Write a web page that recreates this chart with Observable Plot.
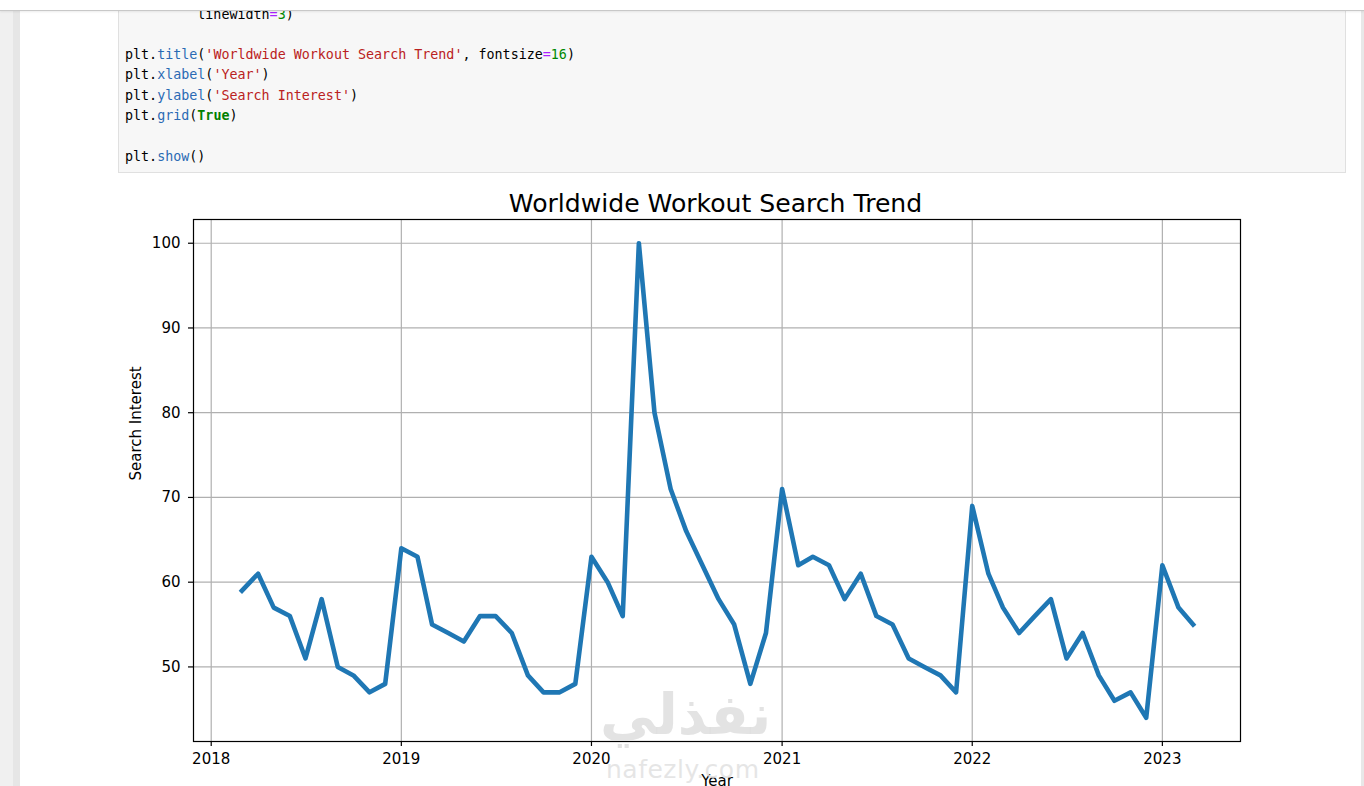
<!DOCTYPE html>
<html>
<head>
<meta charset="utf-8">
<script src="https://cdn.jsdelivr.net/npm/d3@7"></script>
<script src="https://cdn.jsdelivr.net/npm/@observablehq/plot@0.6"></script>
<style>
  html, body { margin: 0; padding: 0; background: #fff; width: 1364px; height: 786px; overflow: hidden; position: relative; }
  #leftstrip { position: absolute; left: 0; top: 0; width: 13px; height: 786px; background: #f0f0f0; border-right: 7px solid #e6e6e6; }
  #rightedge { position: absolute; left: 1361px; top: 0; width: 3px; height: 786px; background: #e8e8e8; }
  #topbar { position: absolute; left: 0; top: 0; width: 1364px; height: 10px; background: #fff; border-bottom: 1px solid #c8c8c8; box-shadow: 0 1px 2px rgba(0,0,0,0.08); z-index: 5; }
  #cell { position: absolute; left: 118px; top: 10px; width: 1226px; height: 161px; background: #f7f7f7; border: 1px solid #e0e0e0; }
  .ln { position: absolute; left: 125px; height: 20px; font-family: "DejaVu Sans Mono", monospace; font-size: 13.35px; line-height: 20px; color: #000; white-space: pre; z-index: 2; }
  .p { color: #2a6ab4; }
  .s { color: #ba2121; }
  .n { color: #008800; }
  .o { color: #aa22ff; }
  .k { color: #008000; font-weight: bold; }
  #chart { position: absolute; left: 100px; top: 180px; }
  #wm1 { position: absolute; left: 600px; top: 683px; font-family: "DejaVu Sans", sans-serif; font-weight: bold; font-size: 56px; line-height: 64px; color: rgba(222,222,222,0.85); z-index: 3; white-space: nowrap; }
  #wm2 { position: absolute; left: 606px; top: 756px; font-family: "DejaVu Sans", sans-serif; font-size: 25px; line-height: 28px; color: rgba(225,225,225,0.85); z-index: 3; white-space: nowrap; letter-spacing: 0.5px; }
</style>
</head>
<body>
<div id="leftstrip"></div>
<div id="rightedge"></div>
<div id="topbar"></div>
<div id="cell"></div>
<div class="ln" style="top:4.5px"><span>         linewidth</span><span class="o">=</span><span class="n">3</span><span>)</span></div>
<div class="ln" style="top:45px"><span>plt.</span><span class="p">title</span><span>(</span><span class="s">'Worldwide Workout Search Trend'</span><span>, fontsize</span><span class="o">=</span><span class="n">16</span><span>)</span></div>
<div class="ln" style="top:65px"><span>plt.</span><span class="p">xlabel</span><span>(</span><span class="s">'Year'</span><span>)</span></div>
<div class="ln" style="top:85.5px"><span>plt.</span><span class="p">ylabel</span><span>(</span><span class="s">'Search Interest'</span><span>)</span></div>
<div class="ln" style="top:105.5px"><span>plt.</span><span class="p">grid</span><span>(</span><span class="k">True</span><span>)</span></div>
<div class="ln" style="top:146.5px"><span>plt.</span><span class="p">show</span><span>()</span></div>
<div id="chart"></div>
<div id="wm1">نفذلي</div>
<div id="wm2">nafezly.com</div>
<script>
// Monthly search interest, March 2018 – March 2023
const months = [
  "2018-03","2018-04","2018-05","2018-06","2018-07","2018-08","2018-09","2018-10","2018-11","2018-12",
  "2019-01","2019-02","2019-03","2019-04","2019-05","2019-06","2019-07","2019-08","2019-09","2019-10","2019-11","2019-12",
  "2020-01","2020-02","2020-03","2020-04","2020-05","2020-06","2020-07","2020-08","2020-09","2020-10","2020-11","2020-12",
  "2021-01","2021-02","2021-03","2021-04","2021-05","2021-06","2021-07","2021-08","2021-09","2021-10","2021-11","2021-12",
  "2022-01","2022-02","2022-03","2022-04","2022-05","2022-06","2022-07","2022-08","2022-09","2022-10","2022-11","2022-12",
  "2023-01","2023-02","2023-03"
];
const interest = [
  59, 61, 57, 56, 51, 58, 50, 49, 47, 48,
  64, 63, 55, 54, 53, 56, 56, 54, 49, 47, 47, 48,
  63, 60, 56, 100, 80, 71, 66, 62, 58, 55, 48, 54,
  71, 62, 63, 62, 58, 61, 56, 55, 51, 50, 49, 47,
  69, 61, 57, 54, 56, 58, 51, 54, 49, 46, 47, 44,
  62, 57, 55
];
const yearTicks = ["2018", "2019", "2020", "2021", "2022", "2023"];
const yTicks = [50, 60, 70, 80, 90, 100];
const titleText = "Worldwide Workout Search Trend";
const xLabel = "Year";
const yLabel = "Search Interest";

const data = months.map((m, i) => ({ date: new Date(m + "-01T00:00:00Z"), value: interest[i] }));
const yearDates = yearTicks.map(y => new Date(y + "-01-01T00:00:00Z"));

const gridStyle = { stroke: "#b0b0b0", strokeOpacity: 1, strokeWidth: 1.2 };

const chart = Plot.plot({
  width: 1160,
  height: 606,
  marginLeft: 93,
  marginRight: 20,
  marginTop: 39,
  marginBottom: 45,
  style: { fontFamily: "DejaVu Sans, sans-serif", fontSize: "15px", color: "#000", background: "transparent", overflow: "visible" },
  x: { type: "utc", domain: [new Date("2017-11-28T00:00:00Z"), new Date("2023-05-31T00:00:00Z")] },
  y: { domain: [41.2, 102.8] },
  marks: [
    Plot.gridX({ ticks: yearDates, ...gridStyle }),
    Plot.gridY({ ticks: yTicks, ...gridStyle }),
    Plot.lineY(data, { x: "date", y: "value", stroke: "#1f77b4", strokeWidth: 4.6, strokeLinejoin: "round", strokeLinecap: "square" }),
    Plot.frame({ stroke: "#000", strokeWidth: 1.2 }),
    Plot.axisX({ ticks: yearDates, tickFormat: d => String(d.getUTCFullYear()), tickSize: 5, tickPadding: 7, strokeWidth: 1.2, label: null }),
    Plot.axisY({ ticks: yTicks, tickSize: 5, tickPadding: 8, strokeWidth: 1.2, label: null }),
    Plot.text([titleText], { frameAnchor: "top", lineAnchor: "bottom", dy: -7.3, dx: -1.5, fontSize: 25.1, fill: "#000" }),
    Plot.text([xLabel], { frameAnchor: "bottom", lineAnchor: "top", dy: 34, fontSize: 15, fill: "#000" }),
    Plot.text([yLabel], { frameAnchor: "left", rotate: -90, dx: -57, fontSize: 15, fill: "#000" })
  ]
});
document.getElementById("chart").appendChild(chart);
</script>
</body>
</html>
